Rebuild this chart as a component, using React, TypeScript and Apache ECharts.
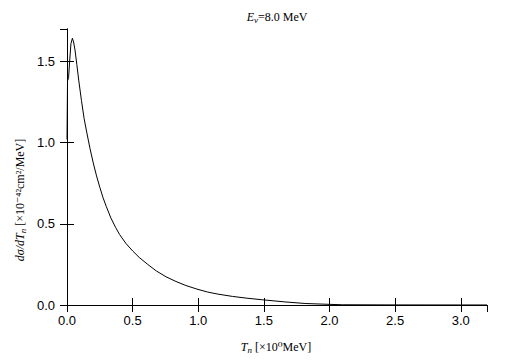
import React, { useEffect, useRef } from "react";
import * as echarts from "echarts";

const xValues = [
  0, 0.004, 0.012, 0.02, 0.03, 0.041, 0.05, 0.061, 0.075, 0.09, 0.11, 0.13,
  0.15, 0.175, 0.2, 0.225, 0.25, 0.275, 0.3, 0.335, 0.37, 0.4, 0.45, 0.5, 0.55,
  0.615, 0.68, 0.754, 0.83, 0.906, 0.99, 1.07, 1.15, 1.26, 1.37, 1.49, 1.66,
  1.82, 2.0, 2.1, 2.5, 3.0, 3.2,
];
const yValues = [
  1.02, 1.38, 1.4, 1.5, 1.61, 1.643, 1.62, 1.571, 1.48, 1.38, 1.26, 1.15,
  1.065, 0.965, 0.875, 0.795, 0.725, 0.66, 0.605, 0.535, 0.478, 0.435, 0.378,
  0.333, 0.293, 0.25, 0.21, 0.174, 0.145, 0.12, 0.098, 0.08, 0.067, 0.053,
  0.042, 0.032, 0.019, 0.009, 0.004, 0.0015, 0.0005, 0.0002, 0.0001,
];
const xTicks = [0, 0.5, 1.0, 1.5, 2.0, 2.5, 3.0];
const yTicks = [0, 0.5, 1.0, 1.5];

const serif = "'Liberation Serif', 'DejaVu Serif', serif";
const sans = "'Liberation Sans', Arial, sans-serif";

export default function App() {
  const ref = useRef<HTMLDivElement>(null);
  useEffect(() => {
    if (!ref.current) return;
    const chart = echarts.init(ref.current, null, { renderer: "svg" });
    const axisLine = { show: true, lineStyle: { color: "#000", width: 1 } };
    const tick = { show: true, inside: true, length: 7, lineStyle: { color: "#000" } };
    const data = xValues.map((x, i) => [x, yValues[i]]);
    chart.setOption({
      animation: false,
      backgroundColor: "#fff",
      title: {
        text: "{i|E}{sub|ν}=8.0 MeV",
        left: 272,
        textAlign: "center",
        top: 4,
        textStyle: {
          fontFamily: serif,
          fontSize: 12,
          fontWeight: "normal",
          color: "#000",
          rich: {
            i: { fontFamily: serif, fontSize: 12, fontStyle: "italic", color: "#000" },
            sub: { fontFamily: serif, fontSize: 9, fontStyle: "italic", color: "#000", padding: [6, 0, 0, 0] },
          },
        },
      },
      grid: { left: 67, right: 18, top: 29, bottom: 56, containLabel: false },
      xAxis: [
        {
          type: "value",
          min: 0,
          max: 3.2,
          interval: 0.5,
          axisLine,
          axisTick: tick,
          splitLine: { show: false },
          axisLabel: {
            color: "#000",
            fontFamily: sans,
            fontSize: 13,
            margin: 9,
            showMaxLabel: false,
            formatter: (v: number) => (xTicks.some((t) => Math.abs(t - v) < 1e-6) ? v.toFixed(1) : ""),
          },
        },
        {
          type: "value",
          position: "top",
          min: 0,
          max: 3.2,
          interval: 0.5,
          axisLine,
          axisTick: tick,
          splitLine: { show: false },
          axisLabel: { show: false },
        },
      ],
      yAxis: [
        {
          type: "value",
          min: 0,
          max: 1.7,
          interval: 0.5,
          axisLine,
          axisTick: tick,
          splitLine: { show: false },
          axisLabel: {
            color: "#000",
            fontFamily: sans,
            fontSize: 13,
            margin: 12,
            showMaxLabel: false,
            formatter: (v: number) => (yTicks.some((t) => Math.abs(t - v) < 1e-6) ? v.toFixed(1) : ""),
          },
        },
        {
          type: "value",
          position: "right",
          min: 0,
          max: 1.7,
          interval: 0.5,
          axisLine,
          axisTick: tick,
          splitLine: { show: false },
          axisLabel: { show: false },
        },
      ],
      series: [
        {
          type: "line",
          data,
          showSymbol: false,
          smooth: false,
          lineStyle: { color: "#000", width: 1 },
          clip: true,
        },
      ],
      graphic: [
        {
          type: "text",
          x: 276,
          y: 347,
          style: {
            text: "{i|T}{sub|n} [×10⁰MeV]",
            fontFamily: serif,
            fontSize: 12,
            fill: "#000",
            align: "center",
            verticalAlign: "middle",
            rich: {
              i: { fontFamily: serif, fontSize: 12, fontStyle: "italic", fill: "#000" },
              sub: { fontFamily: serif, fontSize: 9, fontStyle: "italic", fill: "#000", padding: [6, 0, 0, 0] },
            },
          },
        },
        {
          type: "text",
          x: 20,
          y: 200,
          rotation: Math.PI / 2,
          style: {
            text: "{i|dσ/dT}{sub|n} [×10⁻⁴²cm²/MeV]",
            fontFamily: serif,
            fontSize: 12,
            fill: "#000",
            align: "center",
            verticalAlign: "middle",
            rich: {
              i: { fontFamily: serif, fontSize: 12, fontStyle: "italic", fill: "#000" },
              sub: { fontFamily: serif, fontSize: 9, fontStyle: "italic", fill: "#000", padding: [6, 0, 0, 0] },
            },
          },
        },
      ],
    });
    return () => chart.dispose();
  }, []);
  return <div ref={ref} style={{ width: 505, height: 361, position: "absolute", left: 0, top: 0 }} />;
}
